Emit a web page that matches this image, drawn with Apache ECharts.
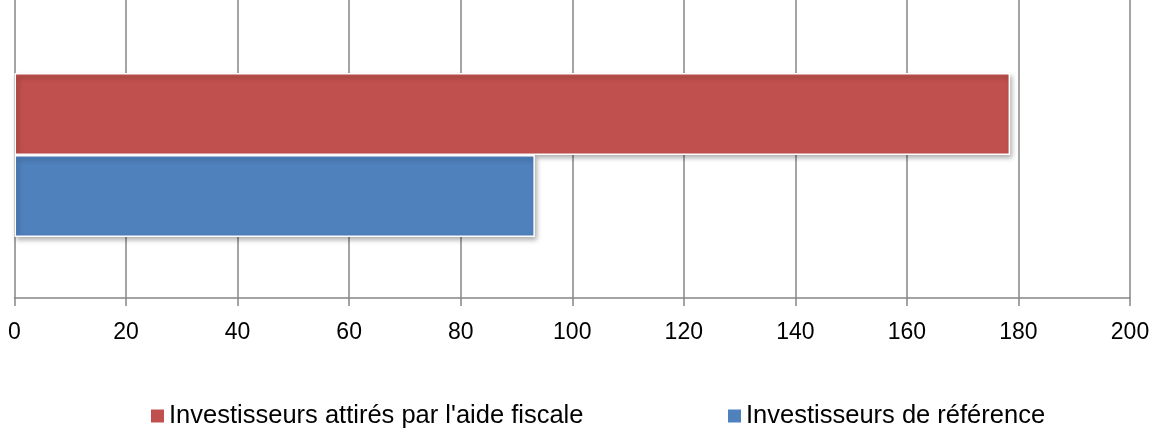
<!DOCTYPE html>
<html>
<head>
<meta charset="utf-8">
<script src="https://cdn.jsdelivr.net/npm/echarts@6/dist/echarts.min.js"></script>
<style>
  html, body { margin: 0; padding: 0; background: #fff; }
  #chart { width: 1159px; height: 433px; }
</style>
</head>
<body>
<div id="chart"></div>
<script>
// data
const categories = ['']
const seriesNames = ["Investisseurs attirés par l'aide fiscale", 'Investisseurs de référence']
const aideFiscale = [178.5]
const reference = [93.3]
const xTicks = { min: 0, max: 200, interval: 20 }

const chart = echarts.init(document.getElementById('chart'))
const font = "'Liberation Sans', 'DejaVu Sans', sans-serif"
const gridColor = '#868686'
const barStyle = function (color) {
  return {
    color: color,
    borderColor: '#ffffff',
    borderWidth: 1.5,
    shadowColor: 'rgba(0,0,0,0.35)',
    shadowBlur: 5,
    shadowOffsetX: 2,
    shadowOffsetY: 3
  }
}
const legendItem = function (left, name) {
  return {
    left: left, top: 398,
    itemWidth: 13, itemHeight: 13, icon: 'rect',
    itemStyle: { borderWidth: 0, shadowBlur: 0, shadowOffsetX: 0, shadowOffsetY: 0 },
    textStyle: { fontFamily: font, fontSize: 25.5, color: '#000' },
    data: [name]
  }
}

chart.setOption({
  animation: false,
  grid: [
    { left: 14.5, right: 29, top: 12, bottom: 135 },
    // strip above the plot so the gridlines run up to the top edge
    { left: 14.5, right: 29, top: 0, height: 12 }
  ],
  legend: [legendItem(146, seriesNames[0]), legendItem(723, seriesNames[1])],
  xAxis: [
    {
      type: 'value',
      min: xTicks.min, max: xTicks.max, interval: xTicks.interval,
      axisLine: { show: true, lineStyle: { color: gridColor, width: 1.5 } },
      axisTick: { show: true, length: 8, lineStyle: { color: gridColor, width: 1.5 } },
      axisLabel: { margin: 23, fontFamily: font, fontSize: 23, color: '#000' },
      splitLine: { show: true, lineStyle: { color: gridColor, width: 1.5 } }
    },
    {
      gridIndex: 1,
      type: 'value',
      min: xTicks.min, max: xTicks.max, interval: xTicks.interval,
      axisLine: { show: false },
      axisTick: { show: false },
      axisLabel: { show: false },
      splitLine: { show: true, lineStyle: { color: gridColor, width: 1.5 } }
    }
  ],
  yAxis: [
    {
      type: 'category',
      data: categories,
      axisLine: { show: false },
      axisTick: { show: false },
      axisLabel: { show: false }
    },
    {
      gridIndex: 1,
      type: 'category',
      data: categories,
      axisLine: { show: false },
      axisTick: { show: false },
      axisLabel: { show: false }
    }
  ],
  series: [
    {
      name: seriesNames[0],
      type: 'bar',
      data: aideFiscale,
      barGap: '0%',
      barCategoryGap: '42.7%',
      itemStyle: barStyle('#C0504D')
    },
    {
      name: seriesNames[1],
      type: 'bar',
      data: reference,
      barGap: '0%',
      barCategoryGap: '42.7%',
      itemStyle: barStyle('#4F81BD')
    }
  ]
})
</script>
</body>
</html>
